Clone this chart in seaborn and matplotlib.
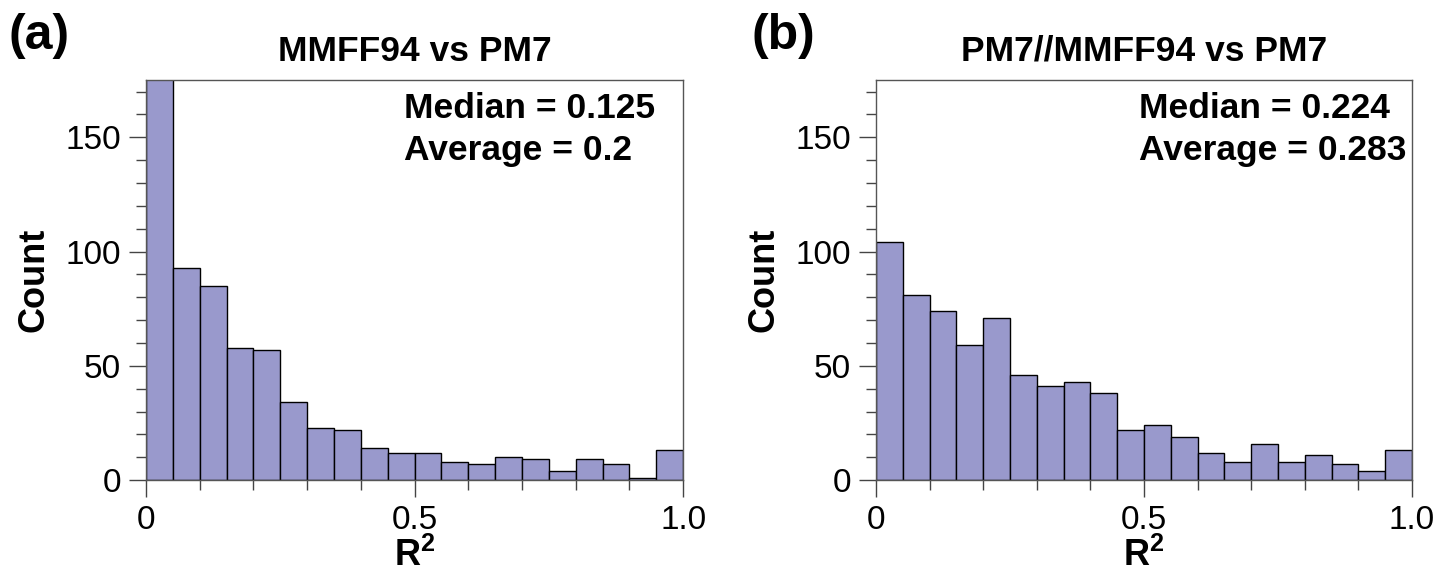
import numpy as np
import pandas as pd
import matplotlib.pyplot as plt
from matplotlib.ticker import MultipleLocator
import seaborn as sns

# histogram bins (R^2 from 0 to 1, width 0.05)
bin_edges = np.linspace(0, 1, 21)

# counts
mmff_counts = [223, 93, 85, 58, 57, 34, 23, 22, 14, 12, 12, 8, 7, 10, 9, 4, 9, 7, 1, 13]
pm7_counts = [104, 81, 74, 59, 71, 46, 41, 43, 38, 22, 24, 19, 12, 8, 16, 8, 11, 7, 4, 13]

titles = ['MMFF94 vs PM7', 'PM7//MMFF94 vs PM7']
panel_labels = ['(a)', '(b)']
medians = ['0.125', '0.224']
averages = ['0.2', '0.283']

sns.set_theme(style='ticks')
plt.rcParams['font.family'] = ['Liberation Sans', 'DejaVu Sans']
plt.rcParams['mathtext.fontset'] = 'custom'
plt.rcParams['mathtext.rm'] = 'Liberation Sans'
plt.rcParams['mathtext.bf'] = 'Liberation Sans:bold'
plt.rcParams['text.color'] = 'black'
plt.rcParams['axes.labelcolor'] = 'black'

centers = (bin_edges[:-1] + bin_edges[1:]) / 2
frames = [pd.DataFrame({'r2': centers, 'n': c}) for c in (mmff_counts, pm7_counts)]

fig = plt.figure(figsize=(14.4, 5.77), dpi=100)
axes = [fig.add_axes([0.1014, 0.168, 0.373, 0.693]),
        fig.add_axes([0.6083, 0.168, 0.3722, 0.693])]
text_x = [0.48, 0.49]

for i, ax in enumerate(axes):
    sns.histplot(data=frames[i], x='r2', weights='n', binwidth=0.05, binrange=(0, 1),
                 ax=ax, color='#9999cc', alpha=1, edgecolor='black', linewidth=1)
    ax.set_xlim(0, 1)
    ax.set_ylim(0, 175)
    ax.set_xticks([0, 0.5, 1.0])
    ax.set_xticklabels(['0', '0.5', '1.0'])
    ax.set_yticks([0, 50, 100, 150])
    ax.xaxis.set_minor_locator(MultipleLocator(0.1))
    ax.yaxis.set_minor_locator(MultipleLocator(10))
    ax.tick_params(which='major', length=12, width=1, color='#444444',
                   labelcolor='black', labelsize=24, pad=6)
    ax.tick_params(which='minor', length=7, width=1, color='#444444')
    for s in ax.spines.values():
        s.set_color('#555555')
        s.set_linewidth(1)
    ax.set_xlabel(r'$\mathbf{R^2}$', fontsize=26, labelpad=1)
    ax.set_ylabel('Count', fontsize=26, fontweight='bold', labelpad=10)
    ax.set_title(titles[i], fontsize=25.5, fontweight='bold', pad=14)
    ax.text(text_x[i], 0.93, f'Median = {medians[i]}', transform=ax.transAxes,
            fontsize=25.5, fontweight='bold', va='center', ha='left')
    ax.text(text_x[i], 0.825, f'Average = {averages[i]}', transform=ax.transAxes,
            fontsize=25.5, fontweight='bold', va='center', ha='left')

fig.text(0.006, 0.937, panel_labels[0], fontsize=36, fontweight='bold', va='center')
fig.text(0.522, 0.937, panel_labels[1], fontsize=36, fontweight='bold', va='center')

fig.savefig('out.png', dpi=100)
